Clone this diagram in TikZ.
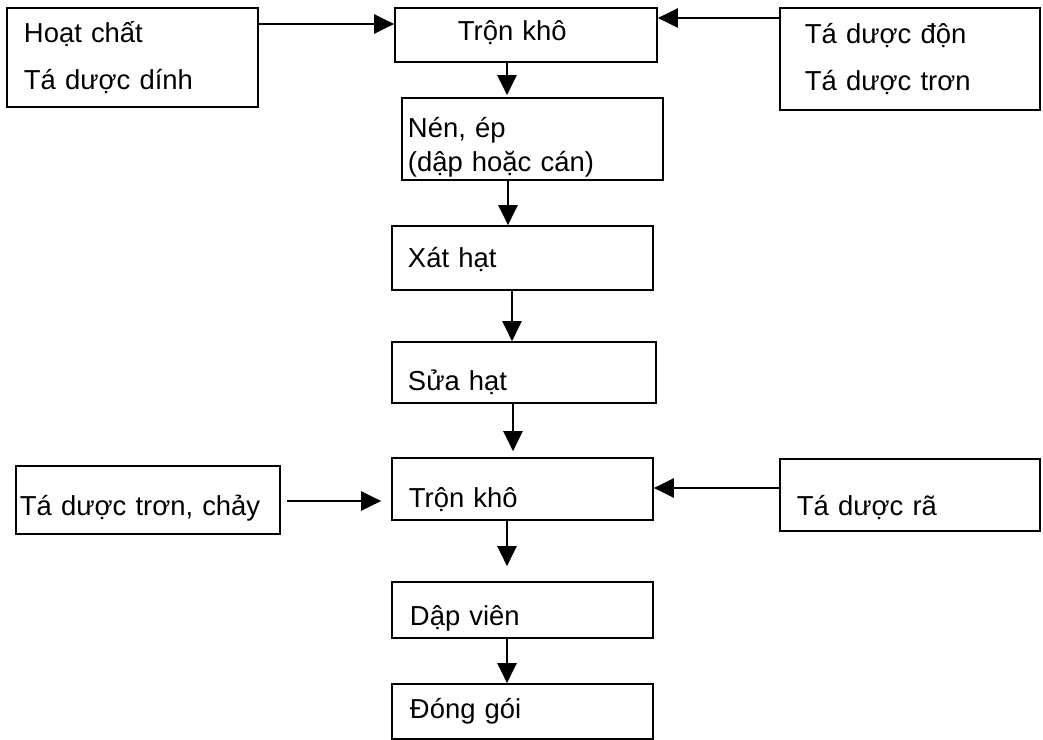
\documentclass[tikz,border=0pt]{standalone}
\usepackage{fontspec}
\setmainfont{Liberation Sans}
\usetikzlibrary{arrows.meta}

\begin{document}
\begin{tikzpicture}[x=0.025cm, y=-0.025cm, font=\fontsize{19.5}{24}\selectfont,
		stage/.style={draw, line width=1.2pt, align=left, inner ysep=0pt},
		lowered/.style={text depth=0.1cm, text height=#1},
		flow/.style={line width=1.2pt, -{Triangle[length=0.5cm, width=0.48cm]}}]
	\useasboundingbox (0,0) rectangle (1043,740);
	% Hàng trên cùng
	\node[stage, text width=5.425cm, inner xsep=0.425cm, minimum height=2.475cm] (hoatchat) at (132.5,57.5) {Hoạt chất\\[10pt]Tá dược dính};
	\node[stage, lowered=0.4cm, text width=3.4cm, inner xsep=1.575cm, minimum height=1.35cm] (tronkho) at (526,35) {Trộn khô};
	\node[stage, text width=5.25cm, inner xsep=0.625cm, minimum height=2.55cm] (taduocdon) at (910,59) {Tá dược độn\\[10pt]Tá dược trơn};
	% Các bước giữa
	\node[stage, text height=0.9cm, text depth=0.95cm, text width=6.225cm, inner xsep=0.15cm, minimum height=2.05cm] (nenep) at (532.5,139) {Nén, ép\\(dập hoặc cán)};
	\node[stage, lowered=0.55cm, text width=5.725cm, inner xsep=0.4cm, minimum height=1.6cm] (xathat) at (522.5,258) {Xát hạt};
	\node[stage, lowered=0.975cm, text width=5.8cm, inner xsep=0.4cm, minimum height=1.525cm] (suahat) at (524,372.5) {Sửa hạt};
	% Trộn khô lần hai
	\node[stage, lowered=1cm, text width=5.675cm, inner xsep=0.425cm, minimum height=1.55cm] (tronkhohai) at (522.5,489) {Trộn khô};
	\node[stage, lowered=0.85cm, text width=6.4cm, inner xsep=0.1cm, minimum height=1.7cm] (taduoctron) at (148,500) {Tá dược trơn, chảy};
	\node[stage, lowered=1.1cm, text width=5.65cm, inner xsep=0.425cm, minimum height=1.8cm] (taduocra) at (910,495) {Tá dược rã};
	% Hai bước cuối
	\node[stage, lowered=0.85cm, text width=5.625cm, inner xsep=0.45cm, minimum height=1.4cm] (dapvien) at (522.5,610) {Dập viên};
	\node[stage, lowered=0.45cm, text width=5.625cm, inner xsep=0.45cm, minimum height=1.375cm] (donggoi) at (522.5,711.5) {Đóng gói};

	% Mũi tên
	\draw[flow] (hoatchat.east |- 0,24) -- (tronkho.west |- 0,24);
	\draw[flow] (taduocdon.west |- 0,18) -- (tronkho.east |- 0,18);
	\draw[flow, shorten >=0.05cm] (tronkho.south -| 507,0) -- (nenep.north -| 507,0);
	\draw[flow] (nenep.south -| 508,0) -- (xathat.north -| 508,0);
	\draw[flow] (xathat.south -| 512,0) -- (suahat.north -| 512,0);
	\draw[flow, shorten >=0.15cm] (suahat.south -| 513,0) -- (tronkhohai.north -| 513,0);
	\draw[flow, shorten <=0.15cm, shorten >=0.25cm] (taduoctron.east |- 0,501) -- (tronkhohai.west |- 0,501);
	\draw[flow] (taduocra.west |- 0,488) -- (tronkhohai.east |- 0,488);
	\draw[flow, shorten >=0.375cm] (tronkhohai.south -| 507,0) -- (dapvien.north -| 507,0);
	\draw[flow] (dapvien.south -| 507,0) -- (donggoi.north -| 507,0);
\end{tikzpicture}
\end{document}
